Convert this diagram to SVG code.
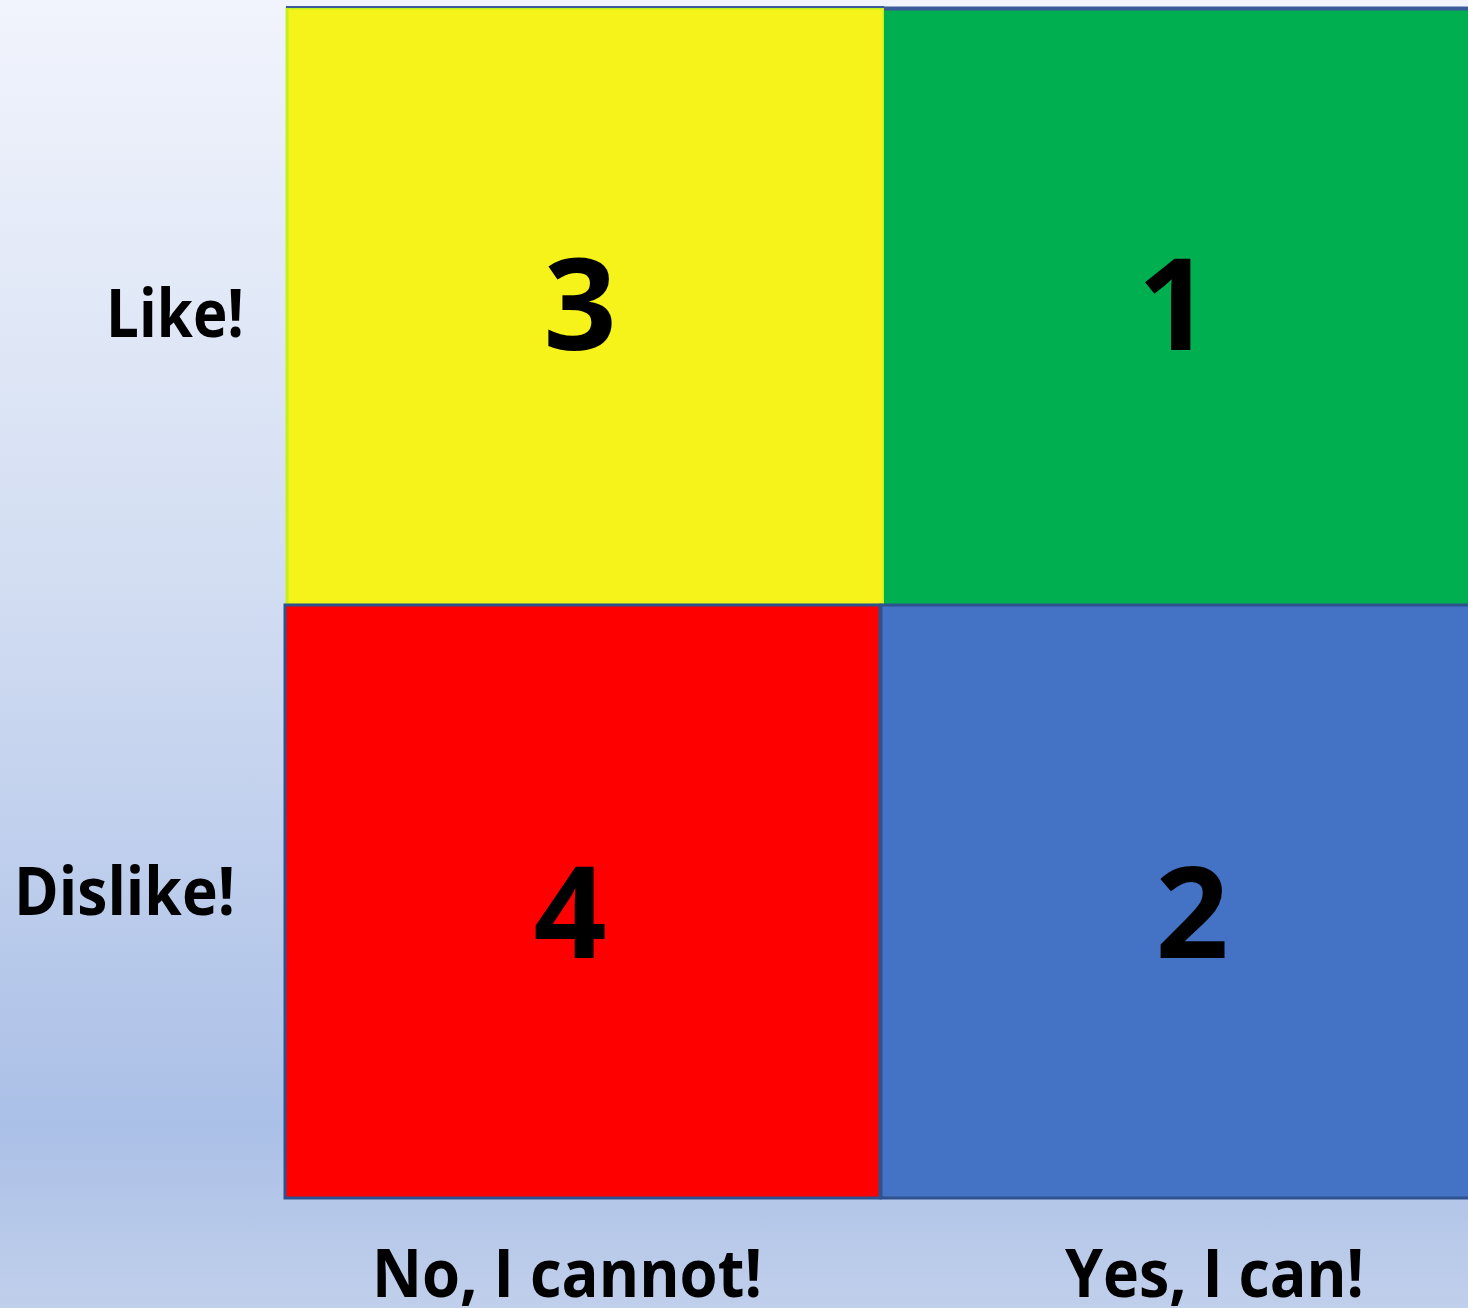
<svg xmlns="http://www.w3.org/2000/svg" width="1468" height="1308" viewBox="0 0 1468 1308">
<defs>
<linearGradient id="bg" x1="0" y1="0" x2="0" y2="1">
<stop offset="0" stop-color="#f1f4fc"/>
<stop offset="0.45" stop-color="#d2ddf2"/>
<stop offset="0.86" stop-color="#abc0e7"/>
<stop offset="1" stop-color="#c0cfeb"/>
</linearGradient>
</defs>
<style>
.lbl{font-family:"Open Sans","Liberation Sans",sans-serif;font-weight:700;fill:#000;font-size:66px}
.num{font-family:"Open Sans","Liberation Sans",sans-serif;font-weight:700;fill:#000;font-size:128px;text-anchor:middle}
.q{stroke:#2f528f;stroke-width:3}
</style>
<rect width="1468" height="1308" fill="url(#bg)"/>
<g id="q3"><rect x="287" y="8" width="597" height="597" fill="#f5f31a" stroke="#c5ef1e" stroke-width="3"/><line x1="286" y1="7" x2="884" y2="7" stroke="#3a5a9a" stroke-width="2"/><text class="num" x="580" y="350">3</text></g>
<g id="q1"><rect x="884" y="8" width="586" height="597" fill="#00b050"/><line x1="884" y1="8.5" x2="1468" y2="8.5" stroke="#3a5a9a" stroke-width="4"/><text class="num" x="1174" y="350">1</text></g>
<g id="q4"><rect x="285" y="605" width="595" height="593" fill="#ff0000" class="q"/><text class="num" x="570" y="958">4</text></g>
<g id="q2"><rect x="881" y="605" width="590" height="593" fill="#4472c4" class="q"/><text class="num" x="1192" y="958">2</text></g>
<g id="labels">
<text class="lbl" x="106" y="337" textLength="138" lengthAdjust="spacingAndGlyphs">Like!</text>
<text class="lbl" x="14" y="915" textLength="221" lengthAdjust="spacingAndGlyphs">Dislike!</text>
<text class="lbl" x="372" y="1297" textLength="390" lengthAdjust="spacingAndGlyphs">No, I cannot!</text>
<text class="lbl" x="1065" y="1297" textLength="299" lengthAdjust="spacingAndGlyphs">Yes, I can!</text>
</g>
</svg>
